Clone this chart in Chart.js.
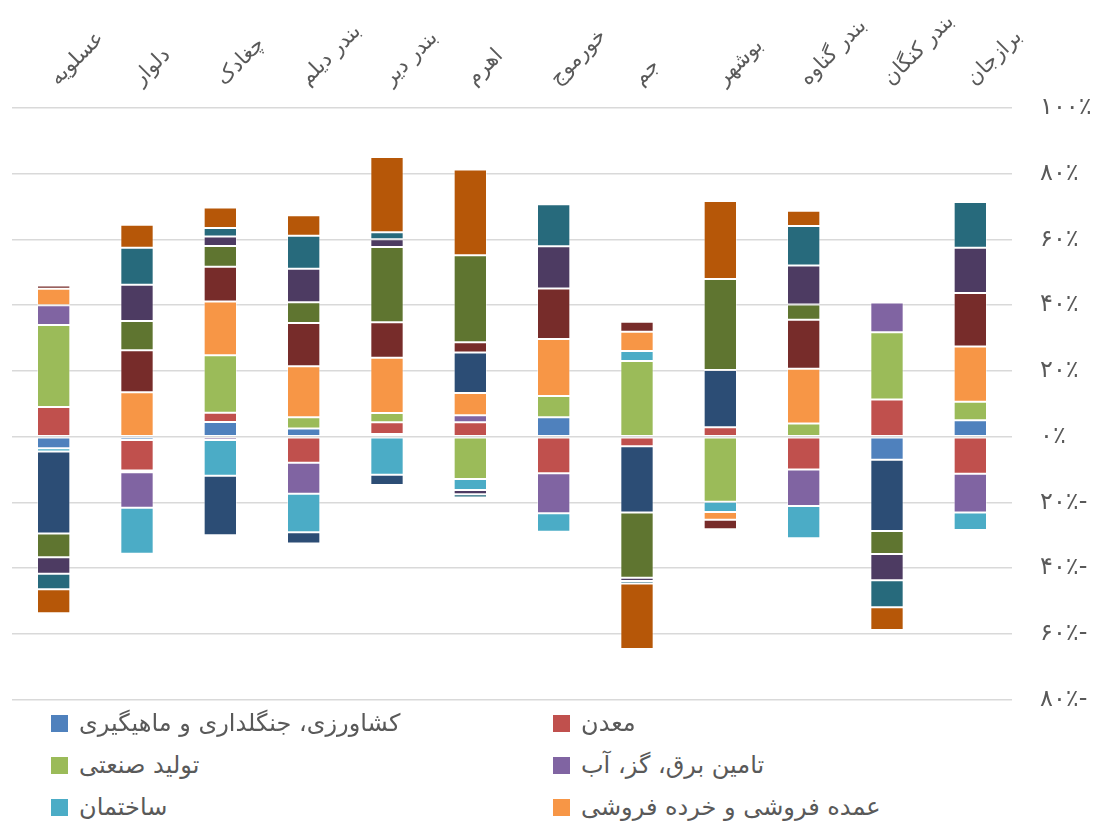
<!DOCTYPE html>
<html>
<head>
<meta charset="utf-8">
<script src="https://cdn.jsdelivr.net/npm/chart.js@4"></script>
<style>
  body { margin: 0; background: #fff; }
  #wrap { position: relative; width: 1106px; height: 824px; overflow: hidden; }
  #chart { position: absolute; left: 0; top: 0; }
  #legend { position: absolute; left: 0; top: 702px; width: 1106px; font-family: "DejaVu Sans", sans-serif; font-size: 24px; color: #595959; }
  .item { position: absolute; height: 42px; display: flex; align-items: center; white-space: nowrap; }
  .box { width: 17px; height: 17px; margin-right: 11px; }
</style>
</head>
<body>
<div id="wrap">
  <canvas id="chart" width="1106" height="742"></canvas>
  <div id="legend"></div>
</div>
<script>
// شهرها
var cities = ['عسلویه', 'دلوار', 'چغادک', 'بندر دیلم', 'بندر دیر', 'اهرم', 'خورموج', 'جم', 'بوشهر', 'بندر گناوه', 'بندر کنگان', 'برازجان'];

// series values (percent)
var agriculture  = [-3.5, -1, 4.5, 2.5, 0.8, 0, 5.9, 0, 0, 0, -7, 5];
var mining       = [9, -9.3, 2.8, -7.9, 3.6, 4.4, -11.1, -2.9, 2.9, -10, 11.3, -11.3];
var manufacture  = [25, -0.5, 17.5, 3.4, 2.8, -12.9, 6.5, 23, -19.8, 4, 20.5, 5.6];
var utilities    = [6, -10.8, -1, -9.5, 0, 2.1, -12.2, 0, 0, -11.1, 9, -11.8];
var construction = [-1, -14, -10.9, -11.7, -11.6, -3.3, -5.6, 3.1, -3.1, -9.8, 0, -5.3];
var trade        = [5, 13.5, 16.3, 15.5, 16.8, 6.8, 17.3, 5.8, -2.4, 16.7, 0.3, 16.8];
var transport    = [-25, 0, -18.1, -3.4, -3.1, 12.3, 0, -20.2, 17.4, 0, -21.7, 0];
var hotels       = [1, 12.8, 10.6, 13.2, 10.8, 3.1, 15.4, 3.1, -2.9, 14.9, 0, 16.3];
var ict          = [-7.2, 8.9, 6.3, 6.3, 22.9, 26.5, 0, -19.8, 27.7, 4.6, -7, 0];
var finance      = [-5, 11, 2.9, 10.2, 2.4, -1.3, 12.8, -1, 0, 11.9, -8, 13.8];
var realEstate   = [-4.7, 11.3, 2.6, 10, 2.1, -1, 12.8, -0.8, 0, 12, -8.2, 13.9];
var otherServ    = [-7.3, 7, 6.2, 6.3, 22.9, 26.1, 0, -19.9, 23.7, 4.6, -6.9, 0];

var seriesNames = ['کشاورزی، جنگلداری و ماهیگیری', 'معدن', 'تولید صنعتی', 'تامین برق، گز، آب', 'ساختمان', 'عمده فروشی و خرده فروشی',
	'حمل و نقل و انبارداری', 'اقامت و غذا', 'اطلاعات و ارتباطات', 'فعالیت های مالی', 'املاک و مستغلات', 'سایر خدمات'];
var seriesData = [agriculture, mining, manufacture, utilities, construction, trade, transport, hotels, ict, finance, realEstate, otherServ];
var colors = ['#4F81BD', '#C0504D', '#9BBB59', '#8064A2', '#4BACC6', '#F79646',
	'#2C4D75', '#772C2A', '#5F7530', '#4D3B62', '#276A7C', '#B65708'];
var legendCount = 6;

var yTicks = { min: -80, max: 100, step: 20 };

function toPersian(n) {
	var d = '۰۱۲۳۴۵۶۷۸۹';
	return String(n).replace(/[0-9]/g, function (c) { return d[+c]; });
}

var datasets = [];
for (var i = 0; i < seriesData.length; i++) {
	datasets.push({
		label: seriesNames[i],
		data: seriesData[i],
		backgroundColor: colors[i],
		borderColor: 'rgba(255,255,255,0.45)',
		borderWidth: 1,
		borderSkipped: false,
		barPercentage: 0.4,
		categoryPercentage: 1
	});
}

var ctx = document.getElementById('chart').getContext('2d');
var myChart = new Chart(ctx, {
	type: 'bar',
	data: { labels: cities, datasets: datasets },
	options: {
		responsive: false,
		devicePixelRatio: 1,
		animation: false,
		layout: { padding: { left: 12, right: 0, top: 0, bottom: 2 } },
		plugins: { legend: { display: false }, tooltip: { enabled: false } },
		scales: {
			x: {
				position: 'top',
				stacked: true,
				grid: { display: false, drawTicks: false },
				border: { display: false },
				ticks: {
					minRotation: 45, maxRotation: 45, autoSkip: false,
					padding: 17,
					labelOffset: 18,
					color: '#595959',
					font: { family: 'DejaVu Sans', size: 21 }
				},
				afterFit: function (s) { s.height = 108; }
			},
			y: {
				position: 'right',
				stacked: true,
				min: yTicks.min, max: yTicks.max,
				grid: { color: '#d9d9d9', lineWidth: 1.5, drawTicks: false },
				border: { display: false },
				ticks: {
					stepSize: yTicks.step,
					padding: 28,
					color: '#595959',
					font: { family: 'DejaVu Sans', size: 24 },
					callback: function (v) {
						return toPersian(Math.abs(v)) + '٪' + (v < 0 ? '-' : '');
					}
				},
				afterFit: function (s) { s.width = 94; }
			}
		}
	}
});

// legend (first six series, two columns)
var legend = document.getElementById('legend');
var colX = [51, 553];
for (var k = 0; k < legendCount; k++) {
	var it = document.createElement('div');
	it.className = 'item';
	it.style.left = colX[k % 2] + 'px';
	it.style.top = (Math.floor(k / 2) * 42) + 'px';
	it.innerHTML = '<span class="box" style="background:' + colors[k] + '"></span><span>' + seriesNames[k] + '</span>';
	legend.appendChild(it);
}
</script>
</body>
</html>
